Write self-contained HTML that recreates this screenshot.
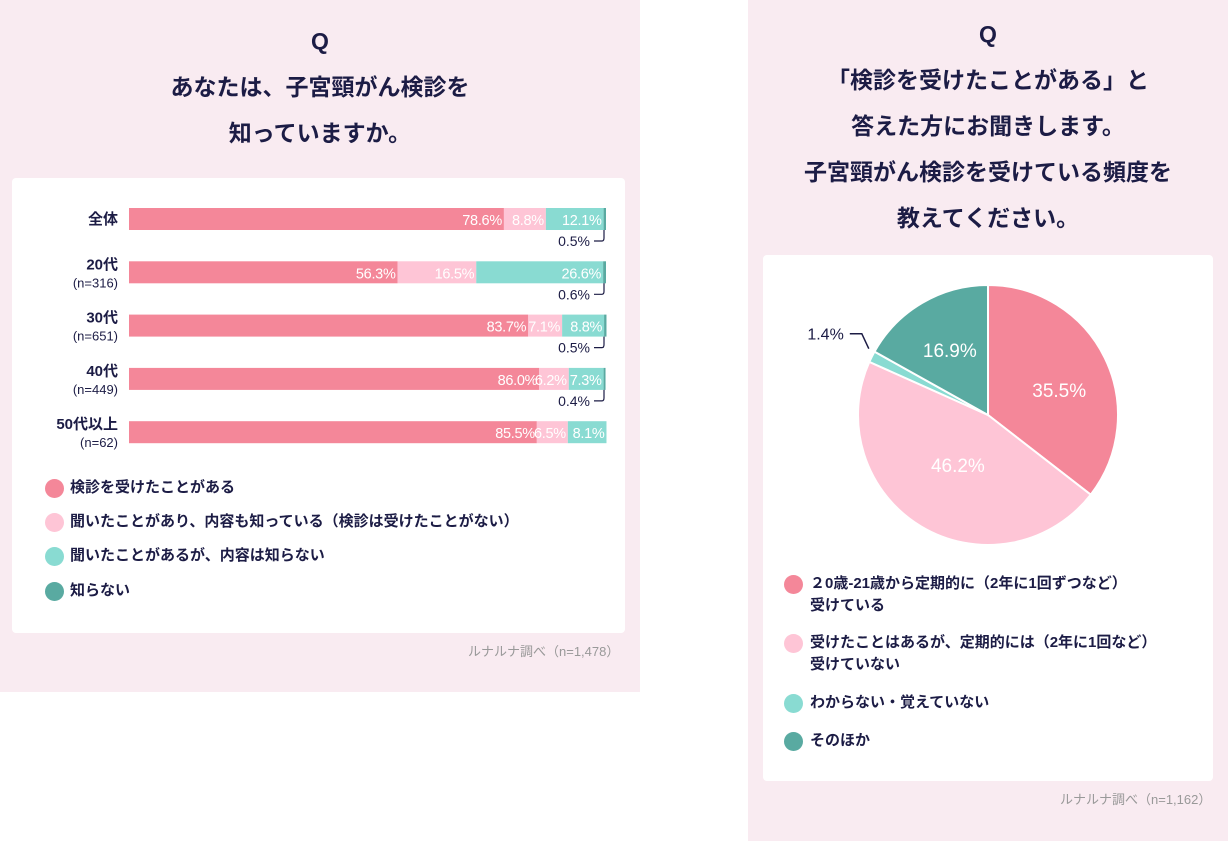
<!DOCTYPE html>
<html><head><meta charset="utf-8">
<style>
body{margin:0;width:1228px;height:841px;background:#fff;position:relative;overflow:hidden;font-family:"Liberation Sans","Noto Sans CJK JP",sans-serif;color:#1c1c45}
.abs{position:absolute}
.title{font-weight:bold;font-size:23px;text-align:center;line-height:46px}
.leg{position:absolute;font-size:15px;font-weight:bold;line-height:22px}
.dot{position:absolute;width:19px;height:19px;border-radius:50%}
</style></head><body>
<div class="abs" style="left:0;top:0;width:640px;height:692px;background:#f9ebf1"></div>
<div class="abs" style="left:748px;top:0;width:480px;height:841px;background:#f9ebf1"></div>
<div class="abs title" style="left:0;top:18px;width:640px">Q<br>あなたは、子宮頸がん検診を<br>知っていますか。</div>
<div class="abs title" style="left:748px;top:11px;width:480px">Q<br>「検診を受けたことがある」と<br>答えた方にお聞きします。<br>子宮頸がん検診を受けている頻度を<br>教えてください。</div>
<div class="abs" style="left:12px;top:178px;width:613px;height:455px;background:#fff;border-radius:4px"></div>
<div class="abs" style="left:763px;top:255px;width:450px;height:526px;background:#fff;border-radius:4px"></div>
<svg class="abs" style="left:0;top:0" width="1228" height="841" id="svg"></svg>
<div class="abs" style="left:468px;top:641px;font-size:13px;color:#999">ルナルナ調べ（n=1,478）</div>
<div class="abs" style="left:1060px;top:789px;font-size:13px;color:#999">ルナルナ調べ（n=1,162）</div>

<div class="dot" style="left:45px;top:479px;background:#f48799"></div>
<div class="leg" style="left:70px;top:477px">検診を受けたことがある</div>
<div class="dot" style="left:45px;top:513px;background:#fec5d6"></div>
<div class="leg" style="left:70px;top:511px">聞いたことがあり、内容も知っている（検診は受けたことがない）</div>
<div class="dot" style="left:45px;top:547px;background:#89dbd2"></div>
<div class="leg" style="left:70px;top:545px">聞いたことがあるが、内容は知らない</div>
<div class="dot" style="left:45px;top:582px;background:#59aaa1"></div>
<div class="leg" style="left:70px;top:580px">知らない</div>

<div class="dot" style="left:784px;top:575px;background:#f48799"></div>
<div class="leg" style="left:810px;top:573px">２0歳-21歳から定期的に（2年に1回ずつなど）<br>受けている</div>
<div class="dot" style="left:784px;top:634px;background:#fec5d6"></div>
<div class="leg" style="left:810px;top:632px">受けたことはあるが、定期的には（2年に1回など）<br>受けていない</div>
<div class="dot" style="left:784px;top:694px;background:#89dbd2"></div>
<div class="leg" style="left:810px;top:692px">わからない・覚えていない</div>
<div class="dot" style="left:784px;top:732px;background:#59aaa1"></div>
<div class="leg" style="left:810px;top:730px">そのほか</div>

<script>
const categories=["全体","20代","30代","40代","50代以上"];
const sampleSizes=["","(n=316)","(n=651)","(n=449)","(n=62)"];
const examined=[78.6,56.3,83.7,86.0,85.5];
const knowContent=[8.8,16.5,7.1,6.2,6.5];
const heardOnly=[12.1,26.6,8.8,7.3,8.1];
const unknown=[0.5,0.6,0.5,0.4,0];
const pieLabels=["定期的に受けている","定期的には受けていない","わからない","そのほか"];
const pieValues=[35.5,46.2,1.4,16.9];

const colors=["#f48799","#fec5d6","#89dbd2","#59aaa1"];
const NS="http://www.w3.org/2000/svg";
const svg=document.getElementById('svg');
function mk(t,a,txt){const e=document.createElementNS(NS,t);for(const k in a)e.setAttribute(k,a[k]);if(txt!==undefined)e.textContent=txt;svg.appendChild(e);return e;}
const x0=129,W=477;
const xs=v=>v/100*W;
const rowY=i=>208+i*53.3;
const series=[examined,knowContent,heardOnly,unknown];
categories.forEach((c,i)=>{
  const y=rowY(i);
  let cx=x0;
  series.forEach((s,j)=>{
    const w=xs(s[i]);
    if(w<=0)return;
    const r=mk('rect',{x:cx,y:y,width:w,height:22,fill:colors[j]});
    
    
    if(j<3){
      const t=mk('text',{x:cx+w-2,y:y+17,'text-anchor':'end','font-size':14.5,fill:'#fff','letter-spacing':'-0.3'},s[i].toFixed(1)+'%');
      
      
    }
    cx+=w;
  });
  if(unknown[i]>0){
    const t=mk('text',{x:590,y:y+38,'text-anchor':'end','font-size':14,fill:'#1c1c45'},unknown[i].toFixed(1)+'%');
    
    
    const p=mk('path',{d:`M594 ${y+33} H602 Q604 ${y+33} 604 ${y+30} V${y+22}`,stroke:'#1c1c45','stroke-width':1.2,fill:'none'});
    
    
  }
  const l=mk('text',{x:118,y:y+(sampleSizes[i]?8:16),'text-anchor':'end','font-size':15,'font-weight':'bold',fill:'#1c1c45'},c);
  
  
  if(sampleSizes[i]){
    const n=mk('text',{x:118,y:y+26,'text-anchor':'end','font-size':13,fill:'#1c1c45'},sampleSizes[i]);
    
    
  }
});
// pie
const pcx=988,pcy=415,R=130;
let a=-Math.PI/2;
const total=pieValues.reduce((s,v)=>s+v,0);
const labelR=[0.58,0.45,0,0.58];
pieValues.forEach((v,i)=>{
  const da=v/total*2*Math.PI, a2=a+da;
  const p1=[pcx+R*Math.cos(a),pcy+R*Math.sin(a)],p2=[pcx+R*Math.cos(a2),pcy+R*Math.sin(a2)];
  const s=mk('path',{d:`M${pcx} ${pcy} L${p1[0]} ${p1[1]} A${R} ${R} 0 ${da>Math.PI?1:0} 1 ${p2[0]} ${p2[1]} Z`,fill:colors[i],stroke:'#fff','stroke-width':2});
  
  
  const m=(a+a2)/2 + (i===0?0.12:0);
  if(v>5){
    const t=mk('text',{x:pcx+R*labelR[i]*Math.cos(m),y:pcy+R*labelR[i]*Math.sin(m)+7,'text-anchor':'middle','font-size':19,fill:'#fff'},v.toFixed(1)+'%');
    
    
  } else {
    const ex=pcx+R*Math.cos(m),ey=pcy+R*Math.sin(m);
    const p=mk('path',{d:`M${ex-3} ${ey-8} L${ex-10} ${ey-23} H${ex-22}`,stroke:'#1c1c45','stroke-width':1.5,fill:'none'});
    
    
    const t=mk('text',{x:ex-28,y:ey-17,'text-anchor':'end','font-size':16,fill:'#1c1c45'},v.toFixed(1)+'%');
    
    
  }
  a=a2;
});
</script>
</body></html>
